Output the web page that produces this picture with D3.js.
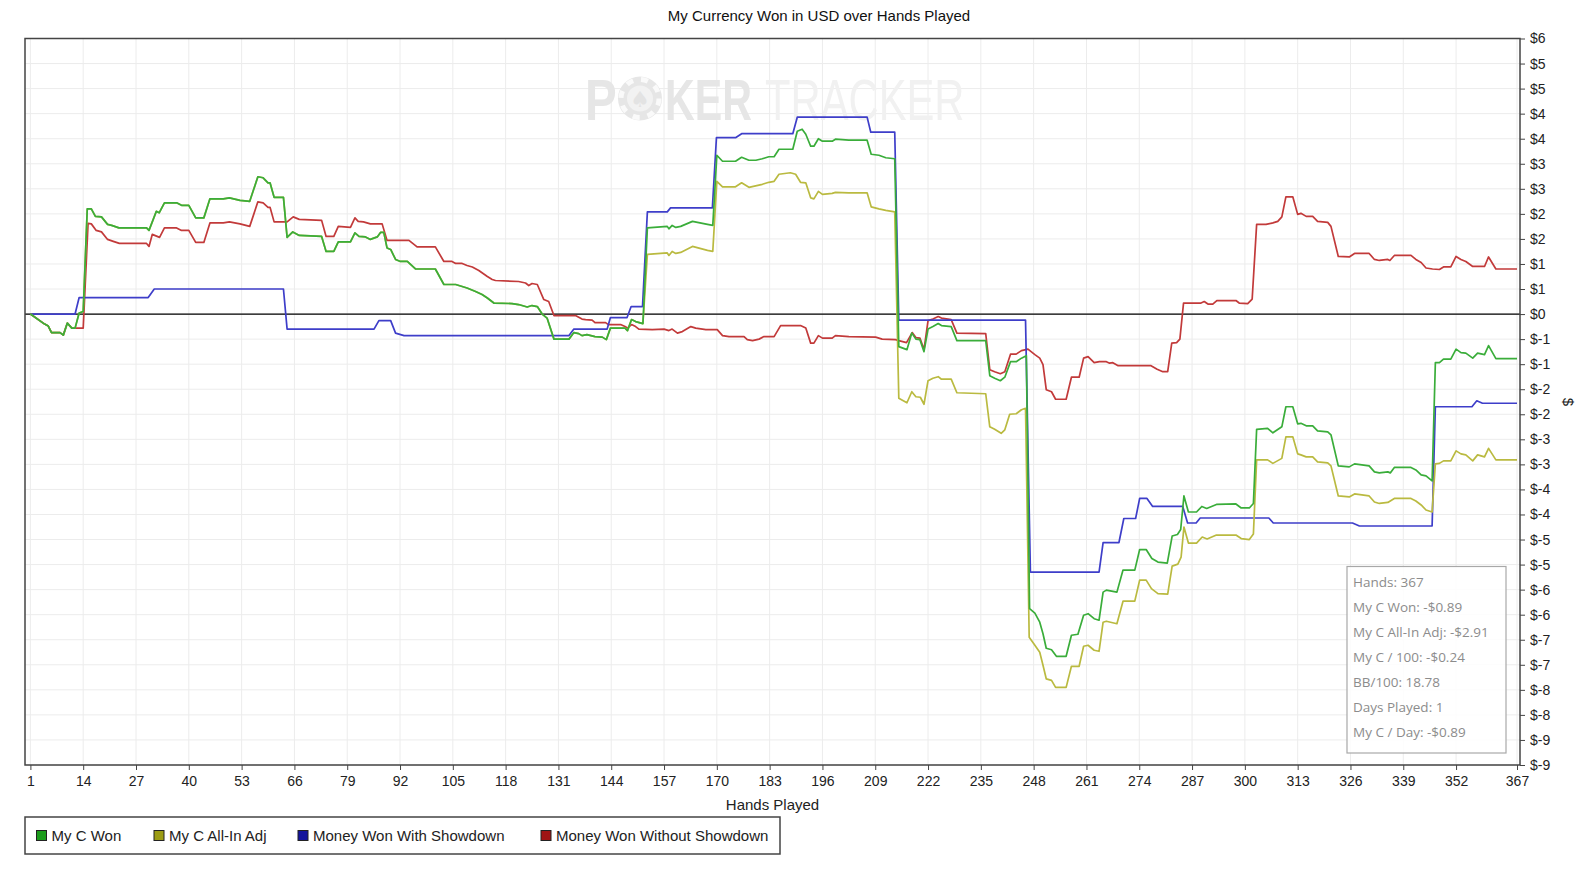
<!DOCTYPE html>
<html><head><meta charset="utf-8">
<script src="https://cdn.jsdelivr.net/npm/d3@7"></script>
<style>
html,body{margin:0;padding:0;background:#fff;}
svg{display:block;}
</style></head><body>
<svg id="chart" width="1589" height="871"></svg>
<script>
const title = "My Currency Won in USD over Hands Played";
const xLabel = "Hands Played";
const yLabel = "$";
const xTicks = [1,14,27,40,53,66,79,92,105,118,131,144,157,170,183,196,209,222,235,248,261,274,287,300,313,326,339,352,367];
const yTicks = [5.5,5,4.5,4,3.5,3,2.5,2,1.5,1,0.5,0,-0.5,-1,-1.5,-2,-2.5,-3,-3.5,-4,-4.5,-5,-5.5,-6,-6.5,-7,-7.5,-8,-8.5,-9];
const yTickLabels = ["$6","$5","$5","$4","$4","$3","$3","$2","$2","$1","$1","$0","$-1","$-1","$-2","$-2","$-3","$-3","$-4","$-4","$-5","$-5","$-6","$-6","$-7","$-7","$-8","$-8","$-9","$-9"];
const seriesNames = ["My C Won","My C All-In Adj","Money Won With Showdown","Money Won Without Showdown"];
const lineColors = ["#3aad3a","#baba40","#3e3ec9","#c23a3a"];
const legendColors = ["#1c9c1c","#9c9c14","#14149c","#a01414"];
const statsLines = ["Hands: 367","My C Won: -$0.89","My C All-In Adj: -$2.91","My C / 100: -$0.24","BB/100: 18.78","Days Played: 1","My C / Day: -$0.89"];

// [hand, dollars]
const myCWon = [[1,0],[4.5,-0.2],[5.4,-0.24],[6.2,-0.37],[8.3,-0.37],[9.1,-0.42],[10.1,-0.18],[11.2,-0.28],[12,-0.28],[13,0.02],[14,0.05],[15,2.1],[16,2.1],[17,1.95],[18.5,1.94],[20,1.79],[21,1.77],[22.8,1.72],[29.6,1.72],[30.2,1.67],[32,2.05],[32.7,2.02],[34,2.22],[37,2.22],[38.2,2.17],[40,2.17],[41.7,1.92],[43.7,1.92],[45.2,2.3],[48.5,2.3],[50,2.32],[52.6,2.27],[55,2.25],[57,2.74],[58.3,2.72],[59.5,2.62],[60,2.62],[61,2.33],[63.3,2.33],[64.2,1.53],[65.6,1.64],[67.2,1.57],[72.7,1.55],[73.8,1.25],[75.7,1.25],[76.8,1.44],[79.8,1.44],[80.9,1.62],[81.9,1.55],[83.5,1.54],[84.7,1.49],[86.4,1.54],[87.2,1.63],[88,1.63],[88.8,1.32],[89.7,1.29],[90.9,1.09],[92.1,1.05],[93.8,1.05],[95.8,0.9],[100.7,0.9],[102.8,0.59],[105.7,0.59],[107.3,0.55],[108.5,0.52],[110.6,0.45],[112.2,0.39],[113.5,0.32],[115.1,0.22],[119.6,0.21],[121.2,0.19],[123.3,0.14],[124.5,0.17],[125.8,0.15],[127,0.0],[128.2,-0.08],[129.9,-0.5],[133.6,-0.5],[134.8,-0.37],[136,-0.39],[136.8,-0.43],[138,-0.41],[140,-0.45],[141.8,-0.46],[142.8,-0.51],[143.8,-0.28],[147.4,-0.28],[148,-0.33],[149,-0.11],[150,-0.15],[151.8,-0.19],[152.9,1.72],[157.8,1.75],[158.2,1.7],[159,1.77],[159.9,1.73],[161.1,1.75],[164,1.85],[167.7,1.79],[169,1.77],[170,3.17],[171.4,3.05],[174.6,3.05],[176.1,3.13],[177.9,3.07],[179.6,3.07],[181.2,3.1],[182.8,3.14],[184.1,3.14],[185.3,3.29],[188.7,3.29],[189.8,3.65],[191,3.69],[191.9,3.59],[193.1,3.35],[193.9,3.35],[195,3.5],[196,3.45],[198.4,3.45],[199.2,3.49],[202.5,3.47],[207,3.47],[208,3.19],[209.9,3.17],[211.6,3.12],[213.8,3.1],[214.8,-0.65],[216.8,-0.71],[218,-0.38],[219,-0.5],[220,-0.51],[221,-0.75],[222,-0.3],[223.2,-0.25],[224.5,-0.19],[225.3,-0.23],[227.7,-0.25],[229.1,-0.53],[236.2,-0.53],[237.2,-1.23],[238.4,-1.28],[239.8,-1.33],[240.9,-1.26],[242.3,-0.95],[243.7,-0.95],[245,-0.88],[246.2,-0.83],[247,-5.88],[248.3,-5.97],[249.5,-6.15],[250.3,-6.38],[251.1,-6.67],[252.4,-6.7],[253.6,-6.83],[256,-6.83],[257.3,-6.41],[258.9,-6.39],[260.3,-6.01],[261.4,-5.98],[262.9,-6.08],[264.1,-6.11],[265.1,-5.55],[265.9,-5.51],[268.5,-5.55],[270,-5.11],[272.9,-5.11],[274.1,-4.7],[275.7,-4.7],[277.1,-4.88],[278.6,-4.95],[280.9,-4.97],[282.1,-4.43],[283.4,-4.4],[284.2,-4.3],[285,-3.63],[286.1,-3.95],[288.1,-3.95],[289.4,-3.84],[290.6,-3.88],[293,-3.8],[297.8,-3.79],[299.1,-3.87],[301.1,-3.87],[302.1,-3.78],[302.9,-2.3],[305.6,-2.28],[306.9,-2.37],[309.1,-2.25],[310.1,-1.85],[311.8,-1.85],[313,-2.19],[313.8,-2.18],[315.1,-2.23],[316.7,-2.23],[317.9,-2.33],[320.4,-2.35],[321.2,-2.41],[323,-3.03],[325.7,-3.05],[327,-2.99],[330.6,-3.03],[331.9,-3.15],[333.1,-3.17],[335.2,-3.15],[335.8,-3.17],[336.8,-3.06],[340.9,-3.06],[342.1,-3.11],[343.4,-3.21],[344.6,-3.23],[346.1,-3.33],[346.9,-0.97],[347.9,-0.97],[348.9,-0.9],[350.7,-0.9],[352,-0.7],[353.2,-0.77],[354.4,-0.78],[356.1,-0.88],[357.3,-0.78],[359,-0.81],[360,-0.63],[361.8,-0.89],[367,-0.89]];

// All-In Adj runs under My C Won until hand ~152, then separates:
const allInAdjTail = [[152.9,1.19],[157.8,1.22],[158.2,1.17],[159,1.25],[159.9,1.21],[161.1,1.23],[164,1.35],[167.7,1.27],[169,1.25],[170,2.65],[171.4,2.54],[174.6,2.54],[176.1,2.62],[177.9,2.53],[181.2,2.59],[182.8,2.63],[184.1,2.65],[185.3,2.79],[188.1,2.82],[189.4,2.79],[190.6,2.63],[191.9,2.62],[193.1,2.32],[193.9,2.3],[195,2.45],[196,2.39],[198.4,2.41],[199.2,2.43],[202.5,2.42],[207,2.42],[208,2.14],[209.9,2.1],[211.6,2.07],[213.8,2.04],[214.8,-1.68],[216.8,-1.77],[218,-1.55],[219,-1.65],[220.1,-1.66],[221,-1.8],[222,-1.33],[223.2,-1.28],[224.5,-1.25],[225.3,-1.3],[227.7,-1.3],[229.1,-1.57],[236.2,-1.59],[237.2,-2.25],[238.4,-2.3],[240,-2.38],[240.9,-2.31],[242.1,-2.0],[243.7,-1.99],[245,-1.91],[246,-1.88],[246.9,-6.45],[248.3,-6.61],[249.5,-6.75],[250.3,-7.01],[251.1,-7.28],[252.4,-7.31],[253.4,-7.45],[256,-7.45],[257.3,-7.03],[259.2,-7.03],[260.3,-6.63],[261.4,-6.61],[262.9,-6.71],[264.1,-6.73],[265.1,-6.15],[265.9,-6.13],[268.5,-6.18],[270,-5.73],[272.9,-5.73],[274.1,-5.31],[275.7,-5.31],[277,-5.48],[278.6,-5.58],[281,-5.59],[282.1,-5.03],[283.5,-4.99],[284.3,-4.85],[285,-4.25],[286.1,-4.57],[288.1,-4.57],[289.5,-4.45],[290.7,-4.49],[293,-4.41],[297.8,-4.41],[299.1,-4.48],[301.1,-4.5],[302.1,-4.39],[302.9,-2.91],[305.6,-2.91],[306.9,-2.98],[309.1,-2.88],[310.1,-2.45],[311.8,-2.45],[313,-2.79],[313.8,-2.81],[315.1,-2.85],[316.7,-2.85],[317.9,-2.95],[320.4,-2.97],[321.2,-3.03],[323,-3.63],[325.7,-3.65],[327,-3.59],[330.6,-3.63],[331.9,-3.75],[333.1,-3.78],[335.2,-3.76],[336.8,-3.68],[340.9,-3.68],[342.1,-3.73],[343.4,-3.81],[344.6,-3.91],[346.1,-3.95],[346.9,-2.99],[347.9,-2.98],[348.9,-2.93],[350.7,-2.93],[352,-2.73],[353.2,-2.79],[354.4,-2.81],[356.1,-2.93],[357.3,-2.81],[359,-2.85],[360,-2.68],[361.8,-2.91],[367,-2.91]];

const withShowdown = [[1,0],[12,0],[13,0.33],[30,0.33],[31.5,0.5],[63.3,0.5],[64.2,-0.3],[85.6,-0.3],[86.8,-0.13],[89.7,-0.13],[90.9,-0.38],[93,-0.43],[133.6,-0.43],[134.8,-0.3],[143,-0.3],[143.8,-0.07],[147.9,-0.07],[148.9,0.15],[151.7,0.15],[152.9,2.04],[157.8,2.04],[158.6,2.12],[168.9,2.12],[169.9,3.52],[174.6,3.52],[176.1,3.6],[188.7,3.6],[189.8,3.93],[207,3.93],[207.9,3.63],[213.8,3.63],[214.8,-0.12],[246,-0.12],[247.2,-5.15],[264.1,-5.15],[265.1,-4.56],[269,-4.56],[270.2,-4.08],[273.1,-4.08],[274.1,-3.68],[275.9,-3.68],[277.3,-3.84],[284.7,-3.84],[285.9,-4.17],[288,-4.17],[289,-4.07],[305.9,-4.07],[307,-4.17],[326.5,-4.17],[328.2,-4.23],[346.1,-4.23],[346.9,-1.85],[355.9,-1.85],[357.1,-1.73],[358.5,-1.78],[367,-1.78]];

const withoutShowdown = [[1,0],[4.5,-0.2],[5.4,-0.24],[6.2,-0.37],[8.3,-0.37],[9.1,-0.42],[10.1,-0.18],[11.2,-0.28],[14,-0.28],[15.2,1.81],[16,1.8],[17.2,1.67],[18.5,1.64],[20,1.49],[21.4,1.45],[22.9,1.41],[29.6,1.41],[30.2,1.35],[31,1.59],[32.8,1.53],[34,1.72],[37,1.72],[38.2,1.67],[40,1.67],[41.7,1.43],[43.7,1.43],[45.2,1.82],[48.5,1.82],[50,1.84],[52.6,1.8],[55,1.75],[57,2.24],[58.3,2.22],[59.5,2.13],[60,2.13],[61,1.84],[64.2,1.84],[65.7,1.94],[67.2,1.89],[72.7,1.87],[73.8,1.55],[75.7,1.55],[76.8,1.75],[79.8,1.73],[80.9,1.92],[81.7,1.85],[83,1.84],[84.7,1.8],[87.6,1.8],[88.8,1.47],[94.2,1.47],[96.2,1.34],[100.7,1.34],[102.8,1.05],[104.8,1.05],[105.7,1.01],[107.3,1.01],[108.5,0.97],[109.8,0.94],[111.4,0.87],[113.5,0.75],[114.7,0.69],[115.5,0.67],[121.2,0.65],[122.9,0.62],[123.7,0.57],[124.5,0.61],[125.8,0.59],[127.4,0.29],[128.6,0.25],[129.9,-0.03],[135.2,-0.03],[136.8,-0.1],[137.7,-0.11],[139.3,-0.12],[140,-0.17],[142.6,-0.17],[143.3,-0.21],[146.3,-0.21],[147.4,-0.25],[148,-0.28],[149,-0.21],[150,-0.25],[150.8,-0.3],[154.1,-0.31],[157,-0.3],[158.2,-0.33],[159,-0.3],[160.3,-0.38],[161.5,-0.35],[163.6,-0.25],[164.8,-0.28],[167.3,-0.31],[170.1,-0.31],[171.4,-0.43],[173,-0.45],[176.7,-0.45],[177.5,-0.51],[178.8,-0.53],[180.4,-0.5],[181.6,-0.45],[184.1,-0.45],[185.7,-0.23],[190.6,-0.23],[191.9,-0.28],[193.1,-0.58],[193.9,-0.58],[195,-0.43],[196,-0.48],[198.4,-0.48],[199.2,-0.43],[202.5,-0.45],[209.1,-0.46],[210.7,-0.5],[214,-0.51],[214.8,-0.53],[216.7,-0.57],[218.1,-0.37],[219,-0.47],[220,-0.48],[221,-0.71],[222,-0.13],[223.2,-0.1],[224.5,-0.05],[225.3,-0.08],[227.7,-0.11],[229.1,-0.38],[236.2,-0.39],[237.2,-1.11],[238.4,-1.15],[239.8,-1.19],[240.9,-1.15],[242.3,-0.8],[243.7,-0.8],[245,-0.73],[246.6,-0.7],[248.3,-0.81],[249.5,-0.88],[250.3,-1.01],[251.1,-1.51],[252.4,-1.55],[253.4,-1.7],[256,-1.7],[257.3,-1.26],[259.2,-1.26],[260.3,-0.88],[261.4,-0.85],[262.9,-0.97],[264.2,-0.95],[265.9,-0.95],[266.7,-0.98],[267.5,-0.97],[268.8,-1.03],[276.9,-1.03],[278.4,-1.1],[279.8,-1.15],[281,-1.15],[282,-0.58],[283.2,-0.57],[284,-0.5],[284.9,0.22],[289.2,0.22],[290,0.25],[290.9,0.2],[292.1,0.2],[293.1,0.27],[297.8,0.27],[298.6,0.22],[300.7,0.21],[301.8,0.3],[302.9,1.79],[305.2,1.79],[306.9,1.82],[308.1,1.85],[309.1,1.94],[310.1,2.34],[311.8,2.34],[313,1.99],[313.8,2.01],[315.1,1.95],[316.7,1.95],[317.9,1.85],[320.4,1.83],[321.2,1.75],[323,1.15],[325.7,1.14],[327,1.21],[330.6,1.21],[331.9,1.09],[333.1,1.07],[335.2,1.09],[335.7,1.07],[336.8,1.17],[340.9,1.17],[342.1,1.09],[343.4,1.03],[344.6,0.92],[346.2,0.9],[347.9,0.89],[348.9,0.94],[350.7,0.94],[352,1.15],[353.2,1.09],[354.4,1.05],[356.1,0.95],[359,0.95],[360,1.14],[361.8,0.9],[367,0.9]];

const allInAdj = myCWon.filter(d => d[0] <= 151.8).concat(allInAdjTail);

const svg = d3.select("#chart");
const FONT = "'Liberation Sans', Arial, sans-serif";
const frame = {left: 25, right: 1520, top: 38.5, bottom: 765};
const x = d3.scaleLinear().domain([1, 367]).range([30.4, 1517]);
const y = d3.scaleLinear().domain([-9, 5.5]).range([frame.bottom, frame.top]);

// title
svg.append("text").attr("x", 819).attr("y", 21).attr("text-anchor", "middle")
  .style("font-family", FONT).style("font-size", "15px").attr("fill", "#111").text(title);

// gridlines
const grid = svg.append("g");
grid.selectAll("line.v").data(xTicks).join("line")
  .attr("x1", d => x(d)).attr("x2", d => x(d)).attr("y1", frame.top).attr("y2", frame.bottom)
  .attr("stroke", "#ececec").attr("stroke-width", 1);
grid.selectAll("line.h").data(yTicks).join("line")
  .attr("x1", frame.left).attr("x2", frame.right).attr("y1", d => y(d)).attr("y2", d => y(d))
  .attr("stroke", "#ececec").attr("stroke-width", 1);

// watermark (condensed via horizontal scaling)
const wm = svg.append("g");
wm.append("text").attr("transform", "translate(585,120) scale(0.82,1)")
  .style("font-family", FONT).style("font-weight", "bold").style("font-size", "58px").attr("fill", "#e6e6e6").text("P");
wm.append("circle").attr("cx", 640).attr("cy", 98.5).attr("r", 22).attr("fill", "#e6e6e6");
wm.append("circle").attr("cx", 640).attr("cy", 98.5).attr("r", 19).attr("fill", "none")
  .attr("stroke", "#fafafa").attr("stroke-width", 5).attr("stroke-dasharray", "7 8");
wm.append("circle").attr("cx", 640).attr("cy", 98.5).attr("r", 13).attr("fill", "#f2f2f2");
wm.append("text").attr("x", 640).attr("y", 107).attr("text-anchor", "middle")
  .style("font-family", "'DejaVu Sans', sans-serif").style("font-size", "22px").attr("fill", "#e3e3e3").text("\u2660");
wm.append("text").attr("transform", "translate(665,120) scale(0.71,1)")
  .style("font-family", FONT).style("font-weight", "bold").style("font-size", "58px").attr("fill", "#e6e6e6").text("KER");
wm.append("text").attr("transform", "translate(765,120) scale(0.72,1)")
  .style("font-family", FONT).style("font-size", "58px").attr("fill", "#f1f1f1").text("TRACKER");

// zero line
svg.append("line").attr("x1", frame.left).attr("x2", frame.right).attr("y1", y(0)).attr("y2", y(0))
  .attr("stroke", "#000").attr("stroke-width", 1.3);

// series lines (drawn so that My C Won is on top)
const line = d3.line().x(d => x(d[0])).y(d => y(d[1]));
const series = [
  {data: withoutShowdown, color: lineColors[3]},
  {data: withShowdown, color: lineColors[2]},
  {data: allInAdj, color: lineColors[1]},
  {data: myCWon, color: lineColors[0]}
];
svg.append("g").selectAll("path").data(series).join("path")
  .attr("d", d => line(d.data)).attr("fill", "none").attr("stroke", d => d.color)
  .attr("stroke-width", 1.7).attr("stroke-linejoin", "round");

// frame
svg.append("rect").attr("x", frame.left).attr("y", frame.top)
  .attr("width", frame.right - frame.left).attr("height", frame.bottom - frame.top)
  .attr("fill", "none").attr("stroke", "#444").attr("stroke-width", 1.5);

// axes
const yAxis = d3.axisRight(y).tickValues(yTicks).tickFormat((d, i) => yTickLabels[i]).tickSize(5).tickPadding(5);
const gy = svg.append("g").attr("transform", `translate(${frame.right},0)`).call(yAxis);
gy.select(".domain").remove();
gy.selectAll("line").attr("stroke", "#444");
gy.selectAll("text").style("font-family", FONT).style("font-size", "14px").attr("fill", "#222");

const xAxis = d3.axisBottom(x).tickValues(xTicks).tickSize(5).tickPadding(6);
const gx = svg.append("g").attr("transform", `translate(0,${frame.bottom})`).call(xAxis);
gx.select(".domain").remove();
gx.selectAll("line").attr("stroke", "#444");
gx.selectAll("text").style("font-family", FONT).style("font-size", "14px").attr("fill", "#222");

svg.append("text").attr("x", 772.5).attr("y", 810).attr("text-anchor", "middle")
  .style("font-family", FONT).style("font-size", "15px").attr("fill", "#222").text(xLabel);
svg.append("text").attr("transform", "translate(1563,402) rotate(90)").attr("text-anchor", "middle")
  .style("font-family", FONT).style("font-size", "15px").attr("fill", "#222").text(yLabel);

// legend
const lg = svg.append("g");
lg.append("rect").attr("x", 25).attr("y", 817).attr("width", 755).attr("height", 37)
  .attr("fill", "#fff").attr("stroke", "#444").attr("stroke-width", 1.5);
const legendX = [36.5, 154, 298, 541];
seriesNames.forEach((name, i) => {
  lg.append("rect").attr("x", legendX[i]).attr("y", 830.5).attr("width", 10).attr("height", 10)
    .attr("fill", legendColors[i]).attr("stroke", "#222").attr("stroke-width", 1);
  lg.append("text").attr("x", legendX[i] + 15).attr("y", 840.5)
    .style("font-family", FONT).style("font-size", "15px").attr("fill", "#222").text(name);
});

// stats box
const sb = svg.append("g");
sb.append("rect").attr("x", 1347).attr("y", 566.5).attr("width", 159).attr("height", 186.5)
  .attr("fill", "rgba(255,255,255,0.85)").attr("stroke", "#a8a8a8").attr("stroke-width", 1.2);
sb.selectAll("text").data(statsLines).join("text")
  .attr("x", 1353).attr("y", (d, i) => 587 + i * 25)
  .style("font-family", "'Open Sans', 'Noto Sans', sans-serif").style("font-size", "13.5px")
  .attr("fill", "#8c8c8c").text(d => d);
</script>
</body></html>
